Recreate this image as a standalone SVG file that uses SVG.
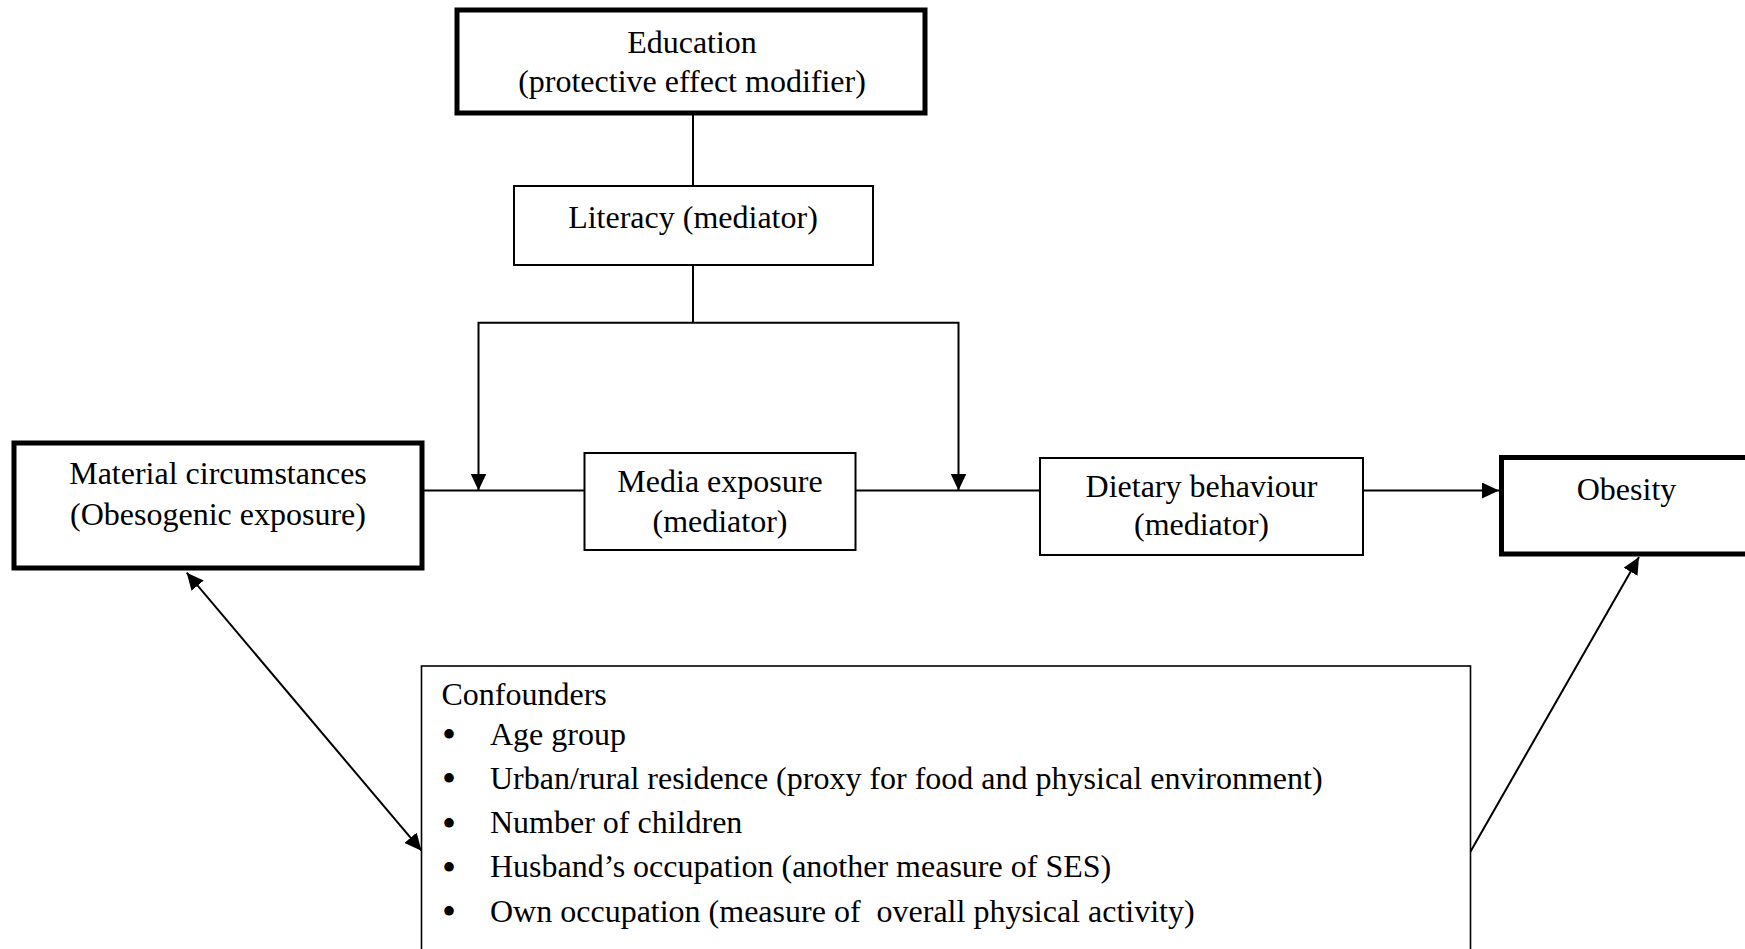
<svg xmlns="http://www.w3.org/2000/svg" width="1745" height="949" viewBox="0 0 1745 949">
<style>
  text { font-family: "Liberation Serif", "Times New Roman", serif; font-size: 32px; fill: #000; }
  .c { text-anchor: middle; }
  .b { font-size: 40px; }
  .thick { fill: #fff; stroke: #000; stroke-width: 5; }
  .thin { fill: #fff; stroke: #000; stroke-width: 2; }
  .conf { fill: #fff; stroke: #000; stroke-width: 1.6; }
  .ln { fill: none; stroke: #000; stroke-width: 2; }
</style>
<defs>
  <marker id="ah" viewBox="0 0 17 16" refX="17" refY="8" markerWidth="17" markerHeight="16" markerUnits="userSpaceOnUse" orient="auto-start-reverse">
    <path d="M0,0 L17,8 L0,16 z" fill="#000"/>
  </marker>
</defs>
<rect width="1745" height="949" fill="#fff"/>

<g id="connectors">
  <line class="ln" x1="693" y1="113" x2="693" y2="186"/>
  <line class="ln" x1="693" y1="265" x2="693" y2="322.7"/>
  <polyline class="ln" points="478.5,490.5 478.5,322.7 958.5,322.7 958.5,490.5" marker-start="url(#ah)" marker-end="url(#ah)"/>
  <line class="ln" x1="424" y1="490.5" x2="584" y2="490.5"/>
  <line class="ln" x1="856" y1="490.5" x2="1039" y2="490.5"/>
  <line class="ln" x1="1364" y1="490.5" x2="1499" y2="490.5" marker-end="url(#ah)"/>
  <line class="ln" x1="186.7" y1="572.7" x2="421.5" y2="850.7" marker-start="url(#ah)" marker-end="url(#ah)"/>
  <line class="ln" x1="1470.4" y1="851.7" x2="1639" y2="557" marker-end="url(#ah)"/>
</g>

<g id="education">
  <rect class="thick" x="457" y="10" width="468" height="103"/>
  <text class="c" x="692" y="53">Education</text>
  <text class="c" x="692" y="91.5">(protective effect modifier)</text>
</g>

<g id="literacy">
  <rect class="thin" x="514" y="186" width="359" height="79"/>
  <text class="c" x="693" y="228">Literacy (mediator)</text>
</g>

<g id="material">
  <rect class="thick" x="14" y="443" width="408" height="125"/>
  <text class="c" x="218" y="483.5">Material circumstances</text>
  <text class="c" x="218" y="525">(Obesogenic exposure)</text>
</g>

<g id="media">
  <rect class="thin" x="584.5" y="453" width="271" height="97"/>
  <text class="c" x="720" y="492">Media exposure</text>
  <text class="c" x="720" y="532">(mediator)</text>
</g>

<g id="dietary">
  <rect class="thin" x="1040" y="458" width="323" height="97"/>
  <text class="c" x="1201.5" y="497">Dietary behaviour</text>
  <text class="c" x="1201.5" y="535">(mediator)</text>
</g>

<g id="obesity">
  <rect class="thick" x="1501.5" y="457.5" width="260" height="96.5"/>
  <text class="c" x="1626.5" y="500">Obesity</text>
</g>

<g id="confounders">
  <rect class="conf" x="421.5" y="666" width="1049" height="300"/>
  <text x="441.5" y="704.5">Confounders</text>
  <text><tspan class="b" x="442" y="748">•</tspan><tspan x="490" y="744.5">Age group</tspan></text>
  <text><tspan class="b" x="442" y="792">•</tspan><tspan x="490" y="788.5">Urban/rural residence (proxy for food and physical environment)</tspan></text>
  <text><tspan class="b" x="442" y="836.5">•</tspan><tspan x="490" y="833">Number of children</tspan></text>
  <text><tspan class="b" x="442" y="880.5">•</tspan><tspan x="490" y="877">Husband’s occupation (another measure of SES)</tspan></text>
  <text xml:space="preserve"><tspan class="b" x="442" y="925">•</tspan><tspan x="490" y="921.5">Own occupation (measure of  overall physical activity)</tspan></text>
</g>
</svg>
